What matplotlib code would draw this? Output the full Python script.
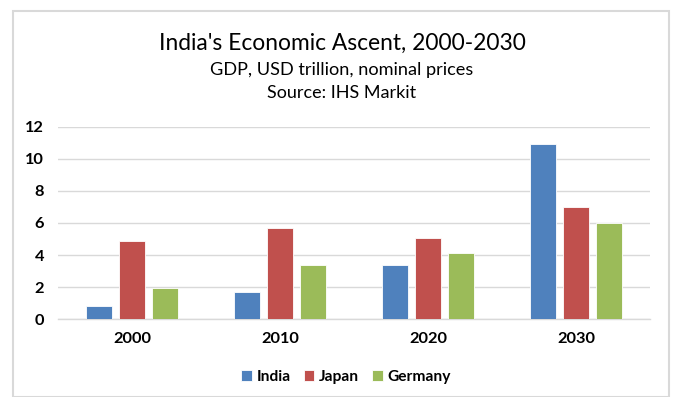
import matplotlib
matplotlib.use("Agg")
import matplotlib.pyplot as plt
from matplotlib.patches import Rectangle
import numpy as np

years = ["2000", "2010", "2020", "2030"]
series_names = ["India", "Japan", "Germany"]
india = [0.81, 1.68, 3.36, 10.9]
japan = [4.88, 5.71, 5.05, 7.0]
germany = [1.95, 3.38, 4.11, 6.02]
colors = ["#4F81BD", "#C0504D", "#9BBB59"]
yticks = [0, 2, 4, 6, 8, 10, 12]

plt.rcParams['font.family'] = ['Lato', 'DejaVu Sans']

W, H = 673, 397
fig = plt.figure(figsize=(W / 100, H / 100), dpi=100)
fig.patch.set_facecolor("white")

# outer chart frame
fig.add_artist(Rectangle((12.5 / W, 0.0), (669 - 12.5) / W, (397 - 10.5) / H,
                         transform=fig.transFigure, fill=False,
                         edgecolor="#D9D9D9", linewidth=1.5))

ax = fig.add_axes([58 / W, 77.7 / H, (650 - 58) / W, (319.3 - 126.7) / H])
x = np.arange(len(years))
bw = 0.176
pitch = 0.222
for i, (vals, name) in enumerate(zip([india, japan, germany], series_names)):
    ax.bar(x + (i - 1) * pitch, vals, width=bw, color=colors[i], label=name,
           edgecolor="white", linewidth=0.6, zorder=3)

ax.set_xlim(-0.5, 3.5)
ax.set_ylim(0, 12)
ax.set_yticks(yticks)
ax.set_xticks(x)
ax.set_xticklabels(years)
ax.yaxis.grid(True, color="#D9D9D9", linewidth=1.0, zorder=0)
for s in ["top", "right", "left"]:
    ax.spines[s].set_visible(False)
ax.spines["bottom"].set_color("#D9D9D9")
ax.spines["bottom"].set_linewidth(1.0)
ax.tick_params(axis="both", length=0, labelsize=11.8, colors="#000000")
ax.tick_params(axis="y", pad=10)
ax.tick_params(axis="x", pad=9)
for lab in ax.get_xticklabels() + ax.get_yticklabels():
    lab.set_fontweight("bold")

cx = 342 / W
fig.text(cx, 1 - 43 / H, "India's Economic Ascent, 2000-2030", ha="center", va="center",
         fontsize=16.4)
fig.text(cx, 1 - 70 / H, "GDP, USD trillion, nominal prices", ha="center", va="center",
         fontsize=13.1)
fig.text(cx, 1 - 93 / H, "Source: IHS Markit", ha="center", va="center",
         fontsize=13.0)

leg = fig.legend(loc="center", bbox_to_anchor=(346 / W, 1 - 377 / H), ncol=3,
                 frameon=False, handlelength=0.7, handleheight=0.7,
                 handletextpad=0.3, columnspacing=0.8,
                 prop={"weight": "bold", "size": 11.2})

fig.savefig("out.png", dpi=100, facecolor="white")
